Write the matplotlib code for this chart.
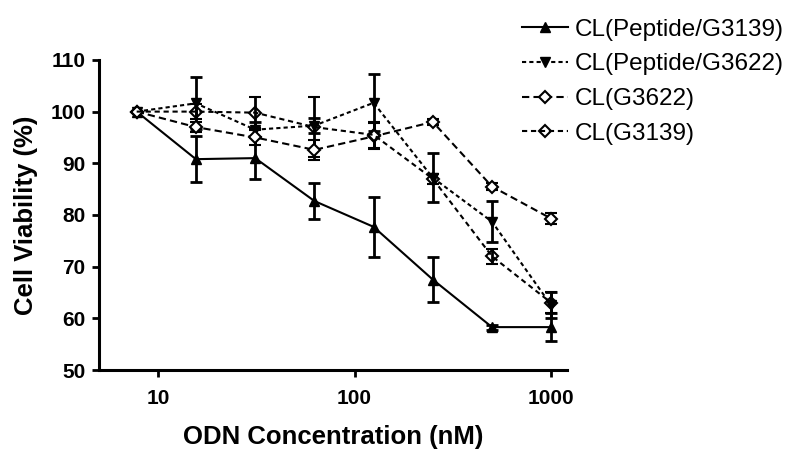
import matplotlib
matplotlib.use("Agg")
import matplotlib.pyplot as plt
from matplotlib.lines import Line2D

plt.rcParams['font.family'] = ['Liberation Sans', 'DejaVu Sans']

conc = [7.8, 15.6, 31.25, 62.5, 125, 250, 500, 1000]

pep_g3139 = [100, 90.8, 91.0, 82.7, 77.7, 67.5, 58.3, 58.3]
pep_g3139_err = [0, 4.5, 4.0, 3.5, 5.8, 4.3, 0.5, 2.7]

pep_g3622 = [100, 101.6, 96.5, 97.3, 101.7, 87.2, 78.7, 62.5]
pep_g3622_err = [0, 5.0, 1.5, 1.5, 5.5, 4.7, 4.0, 2.5]

g3622 = [100, 97.0, 95.0, 92.6, 95.2, 98.0, 85.5, 79.3]
g3622_err = [0, 1.0, 1.5, 2.0, 2.5, 0.5, 0.6, 1.0]

g3139 = [100, 100.0, 99.8, 97.0, 95.5, 87.0, 72.0, 63.0]
g3139_err = [0, 1.5, 3.0, 5.8, 2.5, 1.0, 1.5, 2.0]

labels = ['CL(Peptide/G3139)', 'CL(Peptide/G3622)', 'CL(G3622)', 'CL(G3139)']

fig = plt.figure(figsize=(8, 4.54), dpi=100)
ax = fig.add_axes([0.124, 0.185, 0.585, 0.683])

ebkw = dict(color='black', elinewidth=2.0, capsize=4.5, capthick=2.0)
styles = [
    dict(marker='^', ms=7, lw=1.5, ls='-', mfc='black'),
    dict(marker='v', ms=7, lw=1.5, ls=(0, (2, 1.5)), mfc='black'),
    dict(marker='D', ms=6.5, lw=1.5, ls=(0, (3.5, 2)), mfc='white', mew=1.5),
    dict(marker='D', ms=6.5, lw=1.5, ls=(0, (2.5, 1.8)), mfc='none', mew=1.5),
]
series = [(pep_g3139, pep_g3139_err), (pep_g3622, pep_g3622_err),
          (g3622, g3622_err), (g3139, g3139_err)]

handles = []
for (vals, errs), st in zip(series, styles):
    ax.errorbar(conc, vals, yerr=errs, mec='black', **st, **ebkw)
    handles.append(Line2D([], [], color='black', mec='black', **st))

ax.set_xscale('log')
ax.set_xlim(5.03, 1206)
ax.set_ylim(50, 110)
ax.set_yticks([50, 60, 70, 80, 90, 100, 110])
ax.set_xticks([10, 100, 1000])
ax.set_xticklabels(['10', '100', '1000'])
ax.minorticks_off()

for s in ['top', 'right']:
    ax.spines[s].set_visible(False)
for s in ['left', 'bottom']:
    ax.spines[s].set_linewidth(2.2)
ax.tick_params(width=2, length=5, labelsize=15)
ax.tick_params(axis='x', pad=9)
ax.tick_params(axis='y', pad=5)
for t in ax.get_xticklabels() + ax.get_yticklabels():
    t.set_fontweight('bold')

ax.set_xlabel('ODN Concentration (nM)', fontsize=18.5, fontweight='bold', labelpad=12)
ax.set_ylabel('Cell Viability (%)', fontsize=18.5, fontweight='bold', labelpad=9)

fig.legend(handles, labels, loc='upper left', bbox_to_anchor=(0.64, 0.98),
           borderaxespad=0, frameon=False, fontsize=17.5, handlelength=1.9,
           handletextpad=0.3, labelspacing=0.52)

fig.savefig('out.png', dpi=100)
